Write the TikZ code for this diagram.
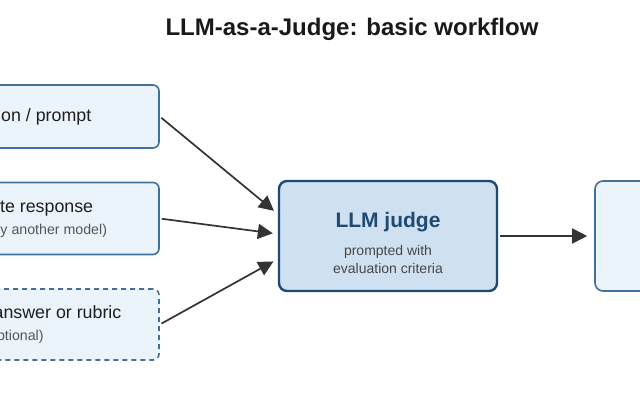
\documentclass[tikz,border=0pt]{standalone}
\usepackage{fontspec}
\setmainfont{Liberation Sans}
\usetikzlibrary{arrows.meta}
\usetikzlibrary{positioning}
\definecolor{boxfill}{HTML}{EBF3FB}
\definecolor{boxline}{HTML}{40709C}
\definecolor{judgefill}{HTML}{CFE0F1}
\definecolor{judgeline}{HTML}{1F4A74}
\definecolor{flowgrey}{HTML}{333333}
\definecolor{subgrey}{HTML}{555555}

\tikzset{
  inbox/.style={draw=boxline, fill=boxfill, line width=1.6pt, rounded corners=6pt,
    align=center, text=black!88, font=\fontsize{17.8}{21}\selectfont},
  optbox/.style={inbox, dashed, dash pattern=on 5pt off 4pt},
  judgebox/.style={draw=judgeline, fill=judgefill, line width=2.4pt, rounded corners=8pt,
    minimum width=218pt, minimum height=110pt, align=center, text=black!72,
    font=\fontsize{14}{18}\selectfont},
  outbox/.style={draw=boxline, fill=boxfill, line width=1.6pt, rounded corners=8pt,
    minimum width=218pt, minimum height=110pt},
  flow/.style={draw=flowgrey, line width=1.7pt, -{Triangle[length=15pt,width=15pt]},
    shorten <=2pt, shorten >=5pt},
}
\newcommand{\subtxt}[1]{{\fontsize{14.2}{17}\selectfont\color{subgrey}#1}}

\begin{document}
\begin{tikzpicture}[x=1pt, y=-1pt]
    \useasboundingbox (0,0) rectangle (640,400);
    \clip (0,0) rectangle (640,400);

    \node [font=\fontsize{24}{28}\selectfont\bfseries, text=black!90] (title) at (352,29)
      {LLM-as-a-Judge: basic workflow};

    % inputs (left part runs off the page)
    \node [inbox, minimum width=277pt, minimum height=63pt] (question) at (20.5,116.5)
      {Question / prompt};
    \node [inbox, minimum width=291pt, minimum height=72pt] (response) at (13.5,218.5)
      {Candidate response\\[1pt]\subtxt{(generated by another model)}};
    \node [optbox, minimum width=290pt, minimum height=71pt] (reference) at (14,324.5)
      {Reference answer or rubric\\[1pt]\subtxt{(optional)}};

    \node [judgebox] (judge) at (388,236)
      {\rule{0pt}{30pt}{\fontsize{21}{25}\selectfont\bfseries\color{judgeline}LLM judge}\\[10pt]
       prompted with\\evaluation criteria};

    \node [outbox] (verdict) at (704,236) {};

    \coordinate (in1) at ([yshift=22pt]judge.west);
    \coordinate (in2) at ([yshift=2pt]judge.west);
    \coordinate (in3) at ([yshift=-23pt]judge.west);

    \draw [flow] (question.east) -- (in1);
    \draw [flow] (response.east) -- (in2);
    \draw [flow] (reference.east) -- (in3);
    \draw [flow, shorten >=7pt] (judge.east) -- (verdict.west);
  \end{tikzpicture}
\end{document}
